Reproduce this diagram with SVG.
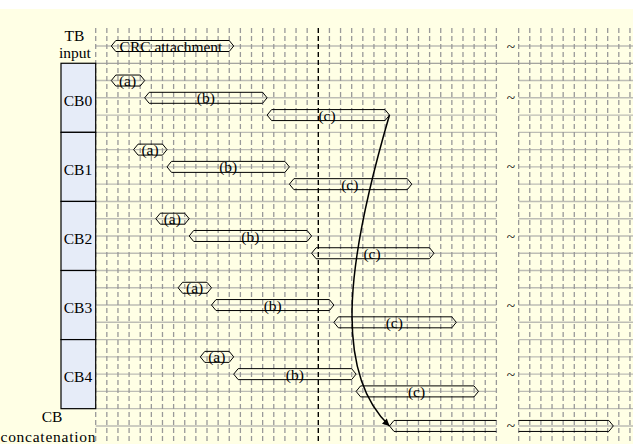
<svg xmlns="http://www.w3.org/2000/svg" width="633" height="444" viewBox="0 0 633 444">
<style>
.bg{fill:#FFFFE5}
.vg{fill:none;stroke:#999999;stroke-width:1.3;stroke-dasharray:5 3}
.hg{fill:none;stroke:#bdbdb5;stroke-width:1.4}
.hd{fill:none;stroke:#8a8a8a;stroke-width:1}
.blk{fill:none;stroke:#000;stroke-width:1.4;stroke-dasharray:5 3}
.box{fill:#E6ECF8;stroke:#000;stroke-width:1.2}
.hex{fill:none;stroke:#000;stroke-width:1}
.t{font-family:"Liberation Serif","Times New Roman",serif;font-size:15.5px;fill:#000;text-anchor:middle}
.arr{fill:none;stroke:#000;stroke-width:1.5}
</style>
<defs>
<marker id="ah" viewBox="0 0 10 10" refX="10" refY="5" markerWidth="8" markerHeight="7" orient="auto" markerUnits="userSpaceOnUse">
<path d="M0,0 L10,5 L0,10 z" fill="#000"/>
</marker>
</defs>
<rect class="bg" x="0" y="9" width="633" height="435"/>
<g id="grid">
<path class="hg" d="M95.7,46 H496.4 M518.6,46 H633
M95.7,80.54 H496.4 M518.6,80.54 H633
M95.7,97.81 H496.4 M518.6,97.81 H633
M95.7,115.08 H496.4 M518.6,115.08 H633
M95.7,132.35 H496.4 M518.6,132.35 H633
M95.7,149.62 H496.4 M518.6,149.62 H633
M95.7,166.89 H496.4 M518.6,166.89 H633
M95.7,184.16 H496.4 M518.6,184.16 H633
M95.7,201.43 H496.4 M518.6,201.43 H633
M95.7,218.7 H496.4 M518.6,218.7 H633
M95.7,235.97 H496.4 M518.6,235.97 H633
M95.7,253.24 H496.4 M518.6,253.24 H633
M95.7,270.51 H496.4 M518.6,270.51 H633
M95.7,287.78 H496.4 M518.6,287.78 H633
M95.7,305.05 H496.4 M518.6,305.05 H633
M95.7,322.32 H496.4 M518.6,322.32 H633
M95.7,339.59 H496.4 M518.6,339.59 H633
M95.7,356.86 H496.4 M518.6,356.86 H633
M95.7,374.13 H496.4 M518.6,374.13 H633
M95.7,391.4 H496.4 M518.6,391.4 H633
M95.7,408.67 H496.4 M518.6,408.67 H633
M95.7,425.94 H496.4 M518.6,425.94 H633"/>
<path class="hd" d="M95.7,63.27 H633"/>
<path class="vg" d="M95.7,28V444 M106.83,28V444 M117.96,28V444 M129.09,28V444 M140.22,28V444 M151.35,28V444 M162.48,28V444 M173.61,28V444 M184.74,28V444 M195.87,28V444 M207,28V444 M218.13,28V444 M229.26,28V444 M240.39,28V444 M251.52,28V444 M262.65,28V444 M273.78,28V444 M284.91,28V444 M296.04,28V444 M307.17,28V444 M329.43,28V444 M340.56,28V444 M351.69,28V444 M362.82,28V444 M373.95,28V444 M385.08,28V444 M396.21,28V444 M407.34,28V444 M418.47,28V444 M429.6,28V444 M440.73,28V444 M451.86,28V444 M462.99,28V444 M474.12,28V444 M485.25,28V444 M496.38,28V444 M518.64,28V444 M529.77,28V444 M540.9,28V444 M552.03,28V444 M563.16,28V444 M574.29,28V444 M585.42,28V444 M596.55,28V444 M607.68,28V444 M618.81,28V444 M629.94,28V444"/>
<path class="blk" d="M318.3,28V444"/>
</g>
<g id="tb-input">
<text class="t" x="74.5" y="41">TB</text>
<text class="t" x="75" y="57.5">input</text>
<polygon class="hex" points="111.3,46 115.8,40.5 229.2,40.5 233.7,46 229.2,51.5 115.8,51.5"/>
<text class="t" x="171" y="51.5">CRC attachment</text>
</g>
<g id="cb0">
<rect class="box" x="61" y="63.27" width="34.7" height="69.08"/>
<text class="t" x="78" y="105.8">CB0</text>
<polygon class="hex" points="111.3,80.54 115.8,75.04 140.2,75.04 144.7,80.54 140.2,86.04 115.8,86.04"/>
<text class="t" x="127.5" y="86">(a)</text>
<polygon class="hex" points="144.7,97.81 149.2,92.31 262.6,92.31 267.1,97.81 262.6,103.31 149.2,103.31"/>
<text class="t" x="205.9" y="103.3">(b)</text>
<polygon class="hex" points="267.1,115.08 271.6,109.58 385,109.58 389.5,115.08 385,120.58 271.6,120.58"/>
<text class="t" x="327" y="120.6">(c)</text>
</g>
<g id="cb1">
<rect class="box" x="61" y="132.35" width="34.7" height="69.08"/>
<text class="t" x="78" y="174.9">CB1</text>
<polygon class="hex" points="133.6,149.62 138.1,144.12 162.5,144.12 167,149.62 162.5,155.12 138.1,155.12"/>
<text class="t" x="150" y="155.1">(a)</text>
<polygon class="hex" points="167,166.89 171.5,161.39 284.9,161.39 289.4,166.89 284.9,172.39 171.5,172.39"/>
<text class="t" x="228.2" y="172.4">(b)</text>
<polygon class="hex" points="289.4,184.16 293.9,178.66 407.3,178.66 411.8,184.16 407.3,189.66 293.9,189.66"/>
<text class="t" x="349.8" y="189.7">(c)</text>
</g>
<g id="cb2">
<rect class="box" x="61" y="201.43" width="34.7" height="69.08"/>
<text class="t" x="78" y="244">CB2</text>
<polygon class="hex" points="155.8,218.7 160.3,213.2 184.7,213.2 189.2,218.7 184.7,224.2 160.3,224.2"/>
<text class="t" x="172.3" y="224.2">(a)</text>
<polygon class="hex" points="189.2,235.97 193.7,230.47 307.1,230.47 311.6,235.97 307.1,241.47 193.7,241.47"/>
<text class="t" x="250.4" y="241.5">(b)</text>
<polygon class="hex" points="311.6,253.24 316.1,247.74 429.5,247.74 434,253.24 429.5,258.74 316.1,258.74"/>
<text class="t" x="372" y="258.7">(c)</text>
</g>
<g id="cb3">
<rect class="box" x="61" y="270.51" width="34.7" height="69.08"/>
<text class="t" x="78" y="313">CB3</text>
<polygon class="hex" points="178.1,287.78 182.6,282.28 207,282.28 211.5,287.78 207,293.28 182.6,293.28"/>
<text class="t" x="194.6" y="293.3">(a)</text>
<polygon class="hex" points="211.5,305.05 216,299.55 329.4,299.55 333.9,305.05 329.4,310.55 216,310.55"/>
<text class="t" x="272.7" y="310.5">(b)</text>
<polygon class="hex" points="333.9,322.32 338.4,316.82 451.8,316.82 456.3,322.32 451.8,327.82 338.4,327.82"/>
<text class="t" x="394.3" y="327.8">(c)</text>
</g>
<g id="cb4">
<rect class="box" x="61" y="339.59" width="34.7" height="69.08"/>
<text class="t" x="78" y="382.1">CB4</text>
<polygon class="hex" points="200.3,356.86 204.8,351.36 229.2,351.36 233.7,356.86 229.2,362.36 204.8,362.36"/>
<text class="t" x="216.8" y="362.4">(a)</text>
<polygon class="hex" points="233.7,374.13 238.2,368.63 351.6,368.63 356.1,374.13 351.6,379.63 238.2,379.63"/>
<text class="t" x="294.9" y="379.6">(b)</text>
<polygon class="hex" points="356.1,391.4 360.6,385.9 474,385.9 478.5,391.4 474,396.9 360.6,396.9"/>
<text class="t" x="416.5" y="396.9">(c)</text>
</g>
<g id="cb-concatenation">
<text class="t" x="52" y="422">CB</text>
<text class="t" x="48" y="441.5" textLength="95" lengthAdjust="spacing">concatenation</text>
<path class="hex" d="M496.4,420.44 H394 L389.5,425.94 L394,431.44 H496.4 M518.6,420.44 H608.8 L613.3,425.94 L608.8,431.44 H518.6"/>
</g>
<g id="breaks">
<text class="t" x="511" y="51.5">~</text>
<text class="t" x="511" y="103.3">~</text>
<text class="t" x="511" y="172.4">~</text>
<text class="t" x="511" y="241.5">~</text>
<text class="t" x="511" y="310.5">~</text>
<text class="t" x="511" y="379.6">~</text>
<text class="t" x="511" y="431.4">~</text>
</g>
<g id="connectors">
<path class="arr" d="M389.5,115.08 C350,250 330,370 389.5,425.94" marker-end="url(#ah)"/>
</g>
</svg>
